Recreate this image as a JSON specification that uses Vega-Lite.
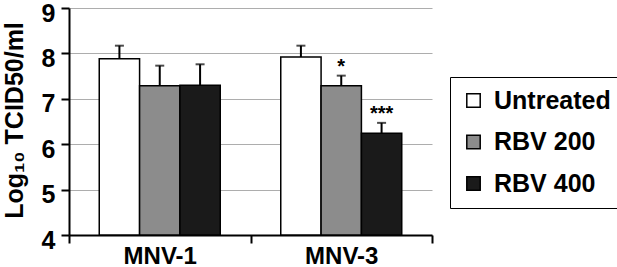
{
  "$schema": "https://vega.github.io/schema/vega-lite/v6.json",
  "autosize": {"type": "none"},
  "padding": {"left": 69, "top": 8, "right": 185, "bottom": 32},
  "width": 363,
  "height": 227,
  "config": {
    "view": {"stroke": null},
    "font": "Liberation Sans",
    "legend": {"strokeColor": "black", "symbolStrokeColor": "black", "symbolStrokeWidth": 1.5}
  },
  "data": {
    "values": [
      {"virus": "MNV-1", "treatment": "Untreated", "mean": 7.88, "upper": 8.17, "sig": ""},
      {"virus": "MNV-1", "treatment": "RBV 200", "mean": 7.29, "upper": 7.73, "sig": ""},
      {"virus": "MNV-1", "treatment": "RBV 400", "mean": 7.30, "upper": 7.76, "sig": ""},
      {"virus": "MNV-3", "treatment": "Untreated", "mean": 7.92, "upper": 8.17, "sig": ""},
      {"virus": "MNV-3", "treatment": "RBV 200", "mean": 7.29, "upper": 7.51, "sig": "*"},
      {"virus": "MNV-3", "treatment": "RBV 400", "mean": 6.24, "upper": 6.47, "sig": "***"}
    ]
  },
  "encoding": {
    "x": {
      "field": "virus", "type": "nominal",
      "scale": {"paddingInner": 0, "paddingOuter": 0},
      "axis": {
        "title": null, "labelAngle": 0, "labelFontSize": 24, "labelFontWeight": "bold",
        "labelColor": "black", "labelPadding": 1,
        "tickBand": "extent", "tickSize": 8, "tickWidth": 2, "tickColor": "black",
        "domainColor": "black", "domainWidth": 2
      }
    },
    "xOffset": {
      "field": "treatment", "type": "nominal",
      "sort": ["Untreated", "RBV 200", "RBV 400"],
      "scale": {"paddingInner": 0, "paddingOuter": 0.75}
    }
  },
  "layer": [
    {
      "mark": {"type": "bar", "stroke": "black", "strokeWidth": 1.5},
      "encoding": {
        "y": {
          "field": "mean", "type": "quantitative",
          "scale": {"domain": [4, 9], "zero": false, "nice": false},
          "axis": {
            "title": "Log₁₀ TCID50/ml", "titleFontSize": 25, "titleFontWeight": "bold", "titleColor": "black",
            "titleX": -55, "titleY": 112, "titleAngle": -90, "titleBaseline": "middle", "titleAlign": "center",
            "values": [4, 5, 6, 7, 8, 9], "format": "d",
            "labelFontSize": 25, "labelFontWeight": "bold", "labelColor": "black", "labelPadding": 6, "labelOffset": 5,
            "tickSize": 8, "tickWidth": 2, "tickColor": "black",
            "domainColor": "black", "domainWidth": 2,
            "grid": true, "gridColor": "#adadad", "gridWidth": 1
          }
        },
        "y2": {"datum": 4},
        "color": {
          "field": "treatment", "type": "nominal",
          "sort": ["Untreated", "RBV 200", "RBV 400"],
          "scale": {"domain": ["Untreated", "RBV 200", "RBV 400"], "range": ["#ffffff", "#8c8c8c", "#1a1a1a"]},
          "legend": {
            "title": null, "orient": "none", "legendX": 381, "legendY": 69,
            "padding": 11,
            "symbolType": "square", "symbolSize": 180,
            "labelFontSize": 25, "labelFontWeight": "bold", "labelColor": "black", "labelOffset": 8,
            "rowPadding": 15.5, "labelLimit": 300
          }
        }
      }
    },
    {
      "mark": {"type": "rule", "color": "black", "strokeWidth": 2},
      "encoding": {
        "y": {"field": "mean", "type": "quantitative"},
        "y2": {"field": "upper"}
      }
    },
    {
      "mark": {"type": "tick", "color": "black", "thickness": 2, "size": 9},
      "encoding": {
        "y": {"field": "upper", "type": "quantitative"}
      }
    },
    {
      "mark": {"type": "text", "fontSize": 20, "fontWeight": "bold", "baseline": "alphabetic", "dy": -3, "color": "black"},
      "encoding": {
        "y": {"field": "upper", "type": "quantitative"},
        "text": {"field": "sig"}
      }
    }
  ]
}
